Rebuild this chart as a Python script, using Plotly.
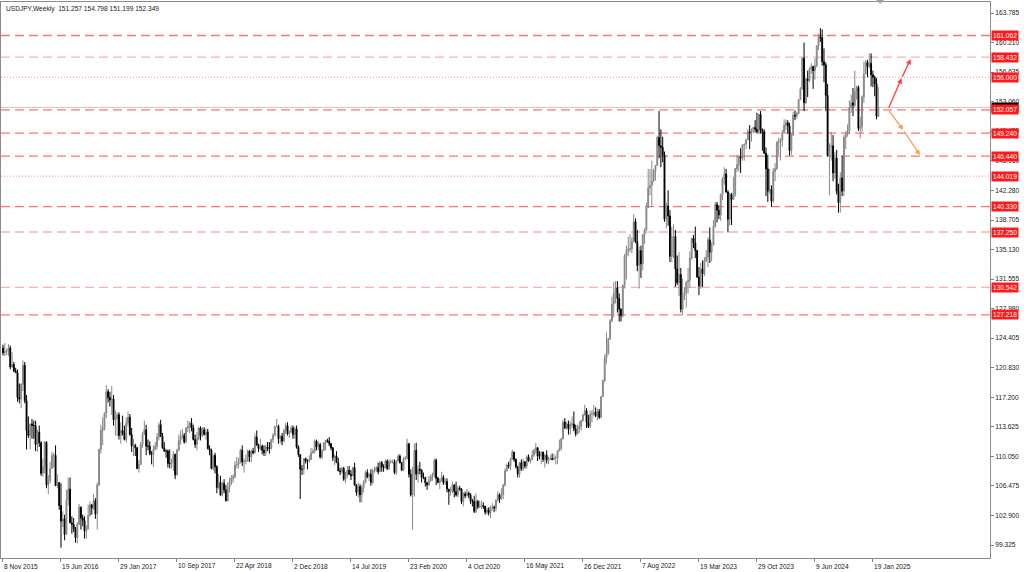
import pandas as pd
import plotly.graph_objects as go

# ---------------- data (weekly USDJPY) ----------------
first_open = 123.2

high_2015 = [123.6, 123.8, 123.1, 123.7, 123.5, 122.7, 121.5, 120.8]
low_2015 = [122.3, 122.2, 122.3, 122.2, 120.6, 120.8, 120.3, 120.2]
close_2015 = [122.6, 122.8, 122.8, 123.2, 120.9, 121.2, 120.4, 120.2]

high_2016 = [120.6, 118.9, 118.9, 121.7, 121.5, 117.5, 114.9, 114.0, 114.6, 114.4, 114.4, 113.3, 113.8,
             111.9, 109.8, 111.9, 111.9, 107.8, 109.4, 110.6, 110.5, 111.4, 107.9, 106.9, 106.8, 103.4,
             103.0, 106.0, 107.5, 107.5, 102.8, 102.6, 101.5, 102.1, 104.3, 104.0, 103.0, 102.8, 101.7,
             104.2, 104.6, 104.3, 105.5, 105.0, 106.9, 111.0, 113.9, 114.8, 115.4, 118.7, 118.2, 117.9]
low_2016 = [116.7, 116.5, 115.9, 118.0, 116.5, 110.9, 112.3, 110.9, 112.2, 112.2, 110.7, 110.6, 111.2,
            107.7, 107.6, 108.0, 106.2, 105.5, 106.8, 108.6, 108.7, 106.5, 106.2, 103.6, 99.0, 101.5,
            99.9, 100.6, 104.1, 102.0, 100.7, 100.9, 99.6, 99.5, 101.8, 101.2, 101.6, 100.1, 100.1,
            101.2, 102.8, 103.0, 103.6, 102.5, 101.2, 106.5, 110.4, 111.4, 113.2, 114.7, 116.6, 116.1]
close_2016 = [117.2, 117.0, 118.8, 121.1, 116.8, 113.2, 112.6, 114.0, 113.8, 113.8, 111.5, 113.0, 111.7,
              108.0, 108.8, 111.8, 106.6, 107.1, 108.6, 110.2, 110.2, 106.5, 106.9, 104.1, 102.2, 102.5,
              100.6, 104.8, 106.1, 102.0, 101.8, 101.3, 100.2, 101.8, 103.9, 102.6, 102.3, 101.0, 101.3,
              102.9, 104.2, 103.8, 104.7, 103.1, 106.6, 110.9, 113.2, 113.5, 115.3, 117.9, 117.2, 116.9]

high_2017 = [118.6, 117.5, 115.6, 115.4, 115.4, 114.2, 115.0, 113.8, 114.8, 115.5, 115.2, 113.5, 112.2,
             111.6, 111.2, 109.6, 111.8, 113.0, 114.4, 113.9, 112.1, 111.9, 110.7, 111.4, 111.8, 112.9,
             114.2, 114.5, 112.9, 111.8, 110.9, 110.9, 110.9, 109.8, 110.7, 110.4, 111.0, 112.7, 113.2,
             113.4, 112.9, 113.6, 114.4, 114.3, 114.7, 113.9, 112.7, 113.0, 113.6, 113.7, 113.6, 113.6]
low_2017 = [115.1, 113.8, 112.6, 112.5, 112.1, 111.6, 112.6, 112.0, 111.7, 113.7, 112.6, 110.6, 110.1,
            110.1, 108.5, 108.1, 109.0, 111.1, 112.8, 110.2, 110.8, 110.2, 109.1, 108.8, 110.8, 110.9,
            112.0, 112.4, 111.0, 110.6, 109.9, 108.7, 108.6, 108.6, 108.3, 107.3, 107.8, 110.7, 111.5,
            112.2, 111.6, 111.7, 113.0, 112.9, 113.1, 112.0, 111.1, 110.8, 112.0, 112.0, 112.4, 112.6]
close_2017 = [117.0, 114.5, 114.6, 115.1, 112.6, 113.2, 112.9, 112.1, 114.1, 114.8, 112.7, 111.3, 111.4,
              111.1, 108.6, 109.1, 111.5, 112.7, 113.3, 111.3, 111.3, 110.4, 110.3, 110.9, 111.3, 112.4,
              113.9, 112.5, 111.1, 110.7, 110.7, 109.2, 109.2, 109.4, 110.3, 107.8, 110.8, 112.0, 112.5,
              112.6, 111.8, 113.5, 113.7, 114.1, 113.5, 112.1, 111.5, 112.2, 113.5, 112.6, 113.3, 112.7]

high_2018 = [113.4, 113.4, 111.4, 111.0, 110.2, 110.5, 109.0, 107.9, 107.7, 107.0, 107.3, 106.6, 106.9,
             107.5, 107.8, 107.9, 109.5, 110.0, 109.9, 111.0, 111.4, 109.8, 110.3, 110.9, 110.8, 110.9,
             111.1, 112.8, 113.2, 111.6, 112.2, 111.5, 111.4, 111.5, 111.8, 111.8, 112.2, 112.9, 113.7,
             114.6, 113.9, 112.6, 112.9, 113.4, 114.1, 114.2, 113.2, 113.8, 113.8, 113.7, 113.8, 111.4, 110.3]
low_2018 = [112.1, 110.9, 110.2, 108.5, 108.3, 108.0, 105.6, 106.1, 105.3, 105.2, 105.6, 104.6, 104.6,
            105.7, 106.6, 106.9, 107.4, 108.6, 108.6, 109.2, 108.9, 108.1, 109.1, 109.4, 109.4, 109.4,
            110.3, 110.4, 111.4, 110.6, 110.8, 110.3, 110.1, 110.1, 110.7, 110.4, 110.9, 111.7, 112.5,
            113.6, 111.6, 111.6, 111.4, 111.8, 112.8, 112.6, 112.3, 112.9, 112.2, 112.2, 111.0, 110.0, 104.9]
close_2018 = [113.0, 111.0, 110.8, 108.6, 110.2, 108.8, 106.3, 106.9, 105.4, 106.8, 106.0, 104.7, 106.3,
              106.9, 107.4, 107.6, 109.0, 109.1, 109.4, 110.8, 109.4, 109.5, 109.5, 110.7, 110.0, 110.7,
              110.5, 112.4, 111.4, 111.0, 111.3, 110.8, 110.5, 111.2, 111.0, 111.0, 112.1, 112.6, 113.7,
              113.7, 112.2, 112.5, 111.9, 113.2, 113.8, 112.8, 113.0, 113.5, 112.7, 113.4, 111.2, 110.3, 108.5]

high_2019 = [109.0, 109.8, 109.9, 109.7, 110.2, 111.1, 111.0, 112.1, 112.1, 111.9, 111.7, 110.9, 111.8,
             112.0, 112.2, 112.4, 111.7, 111.2, 110.3, 110.7, 109.9, 108.7, 108.8, 108.8, 108.2, 108.9,
             108.9, 108.4, 108.8, 109.3, 106.7, 106.9, 106.7, 106.6, 107.2, 108.3, 108.5, 108.1, 108.5,
             108.6, 108.8, 108.9, 109.3, 109.5, 109.5, 109.1, 109.7, 109.7, 109.7, 109.7, 109.7, 109.7]
low_2019 = [107.8, 107.9, 109.2, 108.5, 109.3, 109.6, 110.4, 110.4, 110.8, 110.8, 109.8, 109.7, 110.7,
            110.8, 111.7, 111.3, 110.8, 109.5, 109.0, 109.3, 108.3, 107.8, 108.0, 107.1, 106.8, 107.5,
            107.8, 107.2, 107.7, 106.5, 105.3, 105.1, 104.5, 104.5, 105.7, 106.8, 107.4, 107.1, 106.5,
            106.7, 108.1, 108.2, 107.9, 108.2, 108.2, 108.2, 108.6, 108.4, 108.4, 109.2, 109.2, 107.9]
close_2019 = [108.5, 109.8, 109.5, 109.5, 109.7, 110.5, 110.7, 111.9, 111.2, 111.5, 110.0, 110.8, 111.7,
              112.0, 111.9, 111.6, 111.1, 109.9, 110.1, 109.3, 108.3, 108.2, 108.6, 107.3, 107.8, 108.4,
              107.9, 107.7, 108.7, 106.6, 105.7, 106.4, 105.4, 106.3, 106.9, 108.1, 107.6, 107.9, 106.9,
              108.3, 108.4, 108.7, 108.2, 109.3, 108.8, 108.7, 109.5, 108.6, 109.4, 109.4, 109.4, 108.1]

high_2020 = [109.6, 110.3, 110.3, 109.4, 110.0, 110.1, 112.2, 111.7, 108.5, 108.8, 111.6, 111.7, 109.0,
             109.4, 108.5, 108.1, 107.6, 106.9, 107.7, 107.9, 108.1, 109.8, 109.8, 107.6, 107.4, 108.2,
             107.8, 107.4, 107.4, 106.1, 106.4, 107.0, 106.7, 107.0, 106.5, 106.5, 106.2, 105.7, 105.8,
             106.1, 105.8, 105.6, 104.9, 105.3, 105.6, 104.8, 104.7, 104.7, 104.5, 104.1, 103.9, 103.9]
low_2020 = [107.8, 109.4, 109.2, 108.3, 108.3, 109.6, 109.7, 107.5, 105.2, 101.2, 105.2, 107.2, 106.9,
            107.9, 106.9, 107.3, 106.4, 106.0, 106.5, 107.0, 107.1, 107.5, 106.6, 106.8, 106.1, 107.0,
            106.6, 106.6, 105.7, 104.2, 105.3, 105.6, 105.1, 105.2, 105.1, 105.9, 104.3, 104.0, 105.0,
            105.2, 105.0, 104.3, 104.0, 103.2, 103.2, 103.7, 103.9, 103.7, 103.7, 103.0, 103.0, 102.9]
close_2020 = [109.5, 110.1, 109.3, 108.4, 109.8, 109.8, 111.6, 107.9, 105.4, 107.9, 110.8, 107.9, 108.5,
              108.4, 107.5, 107.5, 106.9, 106.6, 107.1, 107.6, 107.8, 109.6, 107.4, 106.9, 107.2, 107.5,
              106.9, 107.0, 106.1, 105.8, 105.9, 106.6, 105.8, 105.4, 106.2, 106.1, 104.6, 105.5, 105.3,
              105.6, 105.4, 104.7, 104.6, 103.4, 104.6, 103.9, 104.1, 104.1, 104.0, 103.3, 103.6, 103.2]

high_2021 = [104.1, 104.4, 104.1, 104.9, 105.8, 105.6, 106.2, 106.7, 108.6, 109.2, 109.4, 109.9, 110.9,
             110.6, 109.8, 108.9, 109.3, 109.7, 109.8, 109.5, 110.2, 110.3, 109.8, 110.8, 111.0, 111.7,
             111.2, 110.7, 110.6, 110.6, 110.4, 110.8, 110.0, 110.2, 110.4, 110.4, 110.2, 110.8, 112.1,
             112.3, 114.5, 114.7, 114.3, 114.4, 114.3, 114.9, 115.5, 113.9, 113.9, 114.3, 114.5, 115.2]
low_2021 = [102.6, 103.5, 103.3, 103.4, 104.6, 104.4, 104.8, 104.9, 106.4, 108.2, 108.6, 108.4, 109.7,
            109.4, 108.6, 107.5, 107.5, 108.3, 108.3, 108.6, 108.6, 109.4, 109.2, 109.6, 110.0, 110.4,
            109.5, 109.7, 109.1, 109.4, 108.7, 109.2, 109.1, 109.6, 109.6, 109.6, 109.1, 109.1, 110.7,
            110.8, 112.1, 113.4, 113.3, 112.7, 112.7, 113.6, 113.1, 112.5, 112.7, 112.9, 113.2, 114.3]
close_2021 = [103.9, 103.9, 103.8, 104.7, 105.4, 104.9, 105.4, 106.6, 108.3, 109.0, 108.9, 109.7, 110.6,
              109.7, 108.8, 107.9, 109.3, 108.6, 109.4, 108.9, 110.0, 109.5, 109.7, 110.2, 110.8, 111.1,
              110.1, 110.1, 110.6, 109.7, 110.2, 109.6, 109.8, 109.8, 109.7, 109.9, 109.9, 110.7, 111.0,
              112.2, 114.2, 113.5, 114.0, 113.4, 113.9, 114.0, 113.4, 112.8, 113.4, 113.7, 114.4, 115.1]

high_2022 = [116.3, 115.9, 115.1, 115.6, 115.7, 116.3, 116.0, 115.8, 115.8, 117.4, 119.4, 122.4, 125.1,
             124.4, 126.7, 129.4, 131.2, 131.3, 131.3, 129.8, 128.0, 130.9, 134.6, 135.6, 136.7, 137.0,
             136.6, 139.4, 138.9, 137.5, 135.5, 135.6, 137.0, 137.7, 140.8, 144.9, 144.9, 145.9, 144.9,
             145.4, 148.9, 151.9, 149.7, 148.8, 147.0, 140.8, 142.3, 139.9, 137.9, 138.2, 137.5, 134.4]
low_2022 = [115.0, 113.5, 113.5, 113.5, 114.2, 114.9, 114.8, 114.4, 114.6, 114.7, 117.3, 119.1, 121.3,
            122.4, 124.2, 126.3, 126.9, 128.6, 127.5, 126.4, 126.4, 126.9, 130.4, 131.5, 134.3, 134.8,
            134.7, 136.0, 135.9, 132.5, 130.4, 131.7, 132.6, 135.8, 137.4, 140.2, 141.7, 140.3, 143.3,
            143.5, 145.3, 146.2, 145.1, 145.7, 138.5, 137.7, 138.0, 133.6, 133.6, 134.1, 130.6, 130.8]
close_2022 = [115.6, 114.2, 113.7, 115.2, 115.2, 115.4, 115.0, 115.5, 114.8, 117.3, 119.2, 122.0, 122.5,
              124.3, 126.5, 128.5, 129.8, 130.5, 129.2, 127.9, 127.1, 130.8, 134.4, 135.0, 135.2, 135.2,
              136.1, 138.5, 136.1, 133.2, 135.0, 133.4, 136.9, 137.5, 140.2, 142.6, 142.9, 143.4, 144.7,
              145.3, 148.7, 147.7, 147.5, 146.6, 138.8, 140.4, 139.2, 134.3, 136.7, 136.7, 132.8, 131.1]

high_2023 = [134.8, 132.9, 131.6, 130.6, 131.2, 132.9, 134.9, 136.5, 136.9, 137.9, 135.1, 133.0, 133.5,
             133.8, 134.2, 135.1, 136.6, 137.8, 136.0, 138.7, 140.9, 140.9, 140.5, 141.9, 143.9, 145.1,
             144.9, 142.3, 142.0, 142.0, 143.9, 145.0, 146.6, 146.6, 147.4, 147.9, 147.9, 148.5, 149.7,
             150.2, 149.8, 150.0, 150.8, 151.7, 151.6, 151.9, 149.8, 149.7, 147.5, 146.6, 144.9, 142.9]
low_2023 = [129.5, 127.5, 127.2, 129.0, 128.1, 129.8, 130.5, 133.9, 135.3, 134.1, 131.7, 129.6, 130.4,
            130.6, 131.9, 133.6, 133.0, 133.5, 133.7, 135.6, 137.8, 138.4, 138.8, 138.6, 141.1, 143.0,
            142.0, 137.2, 138.0, 138.1, 141.5, 141.5, 144.5, 144.6, 144.4, 145.9, 145.9, 147.3, 148.4,
            147.3, 148.2, 149.2, 149.3, 149.2, 149.2, 149.2, 147.1, 146.7, 141.6, 140.9, 141.9, 140.3]
close_2023 = [132.1, 127.9, 129.6, 129.9, 131.2, 131.4, 134.1, 136.5, 135.9, 135.0, 131.8, 130.7, 132.8,
              132.2, 133.8, 134.2, 136.3, 134.8, 135.7, 137.9, 140.6, 139.9, 139.3, 141.8, 143.7, 144.3,
              142.1, 138.8, 141.8, 141.2, 141.8, 144.9, 145.4, 146.4, 146.2, 147.8, 147.9, 148.4, 149.4,
              149.3, 149.6, 149.9, 149.7, 149.4, 151.5, 149.6, 149.4, 146.8, 144.9, 142.2, 142.4, 141.0]

high_2024 = [145.0, 145.6, 148.3, 148.7, 148.6, 149.6, 150.9, 150.9, 150.8, 150.5, 149.2, 151.8, 151.97,
             151.8, 153.3, 154.8, 158.4, 160.2, 155.9, 156.8, 157.2, 157.7, 157.4, 158.3, 159.9, 161.3,
             161.95, 161.8, 159.5, 157.8, 155.2, 148.0, 149.4, 149.0, 147.0, 147.2, 143.1, 144.5, 146.5,
             149.0, 149.5, 150.3, 153.2, 153.9, 154.7, 156.8, 155.0, 155.0, 151.2, 153.8, 157.9, 158.1, 158.1]
low_2024 = [140.8, 143.4, 144.8, 146.6, 145.9, 147.6, 149.2, 149.6, 149.2, 146.5, 146.6, 148.9, 150.8,
            151.0, 151.5, 153.2, 154.5, 151.9, 152.8, 153.6, 155.4, 156.4, 154.6, 155.7, 157.2, 159.3,
            160.3, 157.4, 155.4, 151.9, 146.4, 141.7, 145.9, 143.4, 143.7, 141.8, 139.6, 139.6, 141.6,
            141.6, 147.3, 148.8, 149.1, 151.7, 151.3, 152.4, 153.3, 149.5, 148.6, 149.4, 152.9, 156.4, 156.0]
close_2024 = [144.6, 144.9, 148.1, 148.2, 148.4, 149.3, 150.2, 150.5, 150.1, 147.1, 149.0, 151.4, 151.3,
              151.6, 153.3, 154.6, 158.3, 152.9, 155.8, 155.6, 157.0, 157.3, 156.8, 157.4, 159.8, 160.9,
              160.8, 157.9, 157.5, 153.8, 146.5, 147.6, 147.7, 144.4, 146.2, 142.2, 140.8, 143.8, 142.2,
              148.7, 149.1, 149.5, 152.3, 152.9, 152.6, 154.3, 154.8, 149.8, 150.0, 153.6, 156.4, 157.8, 157.3]

high_2025 = [158.9, 158.9, 156.8, 156.2, 155.9, 154.798]
low_2025 = [157.1, 154.9, 154.8, 153.7, 150.9, 151.199]
close_2025 = [157.7, 156.3, 156.0, 155.2, 151.257, 152.349]

# horizontal levels drawn on the chart
level_values = [161.062, 158.432, 156.000, 152.057, 149.240, 146.440, 144.019, 140.330, 137.250, 130.542, 127.218]
level_kinds = ["dash", "light", "dot", "dash", "dash", "dash", "dot", "dash", "light", "light", "dash"]
bid_price = 152.349

# right price-axis labels
price_ticks = [163.785, 160.210, 156.635, 153.060, 149.485, 145.910, 142.280, 138.705, 135.130,
               131.555, 127.980, 124.405, 120.830, 117.200, 113.625, 110.050, 106.475, 102.900, 99.325]

# time-axis labels
time_tick_dates = ["2015-11-08", "2016-06-19", "2017-01-29", "2017-09-10", "2018-04-22", "2018-12-02",
                   "2019-07-14", "2020-02-23", "2020-10-04", "2021-05-16", "2021-12-26", "2022-08-07",
                   "2023-03-19", "2023-10-29", "2024-06-09", "2025-01-19"]
time_tick_text = ["8 Nov 2015", "19 Jun 2016", "29 Jan 2017", "10 Sep 2017", "22 Apr 2018", "2 Dec 2018",
                  "14 Jul 2019", "23 Feb 2020", "4 Oct 2020", "16 May 2021", "26 Dec 2021", "7 Aug 2022",
                  "19 Mar 2023", "29 Oct 2023", "9 Jun 2024", "19 Jan 2025"]

# projected paths (week offset from first bar, price)
up_path_weeks = [488.4, 495.8, 500.8]
up_path_prices = [152.12, 155.87, 158.18]
down_path_weeks = [488.4, 496.7, 505.9]
down_path_prices = [152.12, 149.61, 146.58]

# ---------------- assemble ----------------
highs = high_2015 + high_2016 + high_2017 + high_2018 + high_2019 + high_2020 + high_2021 + high_2022 + high_2023 + high_2024 + high_2025
lows = low_2015 + low_2016 + low_2017 + low_2018 + low_2019 + low_2020 + low_2021 + low_2022 + low_2023 + low_2024 + low_2025
closes = close_2015 + close_2016 + close_2017 + close_2018 + close_2019 + close_2020 + close_2021 + close_2022 + close_2023 + close_2024 + close_2025
opens = [first_open] + closes[:-1]

week0 = pd.Timestamp("2015-11-08")
dates = [week0 + pd.Timedelta(days=7 * i) for i in range(len(closes))]


def wk(i):
    return week0 + pd.Timedelta(days=7 * i)


FONT = "Liberation Sans, Arial, sans-serif"
FS = 6.6

fig = go.Figure()
fig.add_trace(go.Candlestick(
    x=dates, open=opens, high=highs, low=lows, close=closes,
    increasing=dict(line=dict(color="#888888", width=1), fillcolor="#888888"),
    decreasing=dict(line=dict(color="#000000", width=1), fillcolor="#000000"),
    whiskerwidth=0, hoverinfo="skip", showlegend=False,
))

shapes = []
annotations = []

# bid line
shapes.append(dict(type="line", xref="paper", x0=0, x1=1, yref="y", y0=bid_price, y1=bid_price,
                   line=dict(color="#c8c8c8", width=1), layer="below"))

style_map = {
    "dash": dict(color="rgba(255,90,90,0.85)", width=1.3, dash="9px,5px"),
    "light": dict(color="rgba(255,140,140,0.7)", width=1.3, dash="9px,5px"),
    "dot": dict(color="rgba(255,110,110,0.8)", width=1, dash="1px,2px"),
}
for v, k in zip(level_values, level_kinds):
    shapes.append(dict(type="line", xref="paper", x0=0, x1=1, yref="y", y0=v, y1=v,
                       line=style_map[k], layer="below"))

# chart-shift marker at the top
shapes.append(dict(type="path", xref="paper", yref="paper",
                   path="M 0.8848,1.0036 L 0.8929,1.0036 L 0.8889,0.997 Z",
                   fillcolor="#a0a0a0", line=dict(width=0)))

# bid label (black) then level labels (red)
annotations.append(dict(xref="paper", x=1, xanchor="left", xshift=1, yref="y", y=bid_price,
                        text=f"{bid_price:.3f}", showarrow=False, bgcolor="#000000",
                        font=dict(family=FONT, size=FS, color="#ffffff"), borderpad=1))
for v in level_values:
    annotations.append(dict(xref="paper", x=1, xanchor="left", xshift=1, yref="y", y=v,
                            text=f"{v:.3f}", showarrow=False, bgcolor="#ff1a1a",
                            font=dict(family=FONT, size=FS, color="#ffffff"), borderpad=1))

# time labels
for d, t in zip(time_tick_dates, time_tick_text):
    annotations.append(dict(xref="x", x=d, xanchor="left", xshift=-1, yref="paper", y=0,
                            yanchor="middle", yshift=-8, text=t, showarrow=False,
                            font=dict(family=FONT, size=FS, color="#202020")))

# title
annotations.append(dict(xref="paper", x=0, xanchor="left", xshift=3, yref="paper", y=1,
                        yanchor="top", yshift=-1,
                        text="USDJPY,Weekly  151.257 154.798 151.199 152.349", showarrow=False,
                        font=dict(family=FONT, size=FS, color="#202020")))

# projection arrows (two segments each, with arrow heads)
for weeks, prices, col in [(up_path_weeks, up_path_prices, "#ff3b3b"),
                           (down_path_weeks, down_path_prices, "#ff9a4a")]:
    for j in range(len(weeks) - 1):
        annotations.append(dict(xref="x", yref="y", axref="x", ayref="y",
                                x=wk(weeks[j + 1]), y=prices[j + 1],
                                ax=wk(weeks[j]), ay=prices[j],
                                showarrow=True, arrowhead=2, arrowsize=0.8, arrowwidth=1.3,
                                arrowcolor=col, text=""))

fig.update_layout(
    width=1024, height=572,
    margin=dict(l=1, r=34, t=2, b=14),
    paper_bgcolor="#ffffff", plot_bgcolor="#ffffff",
    shapes=shapes, annotations=annotations,
    showlegend=False,
    font=dict(family=FONT, size=FS, color="#202020"),
    xaxis=dict(
        type="date", range=[wk(-1.1), wk(544.6)],
        rangeslider=dict(visible=False),
        showgrid=False, zeroline=False,
        tickvals=time_tick_dates, showticklabels=False,
        ticks="outside", ticklen=3, tickcolor="#808080",
        showline=True, linecolor="#8c8c8c", linewidth=1, mirror=True,
    ),
    yaxis=dict(
        range=[97.75, 165.12], side="right",
        showgrid=False, zeroline=False,
        tickvals=price_ticks, ticktext=[f"{p:.3f}" for p in price_ticks],
        ticks="outside", ticklen=3, tickcolor="#808080",
        tickfont=dict(family=FONT, size=FS, color="#202020"),
        showline=True, linecolor="#8c8c8c", linewidth=1, mirror=True,
    ),
)

fig.write_html("out.html", config={"displayModeBar": False},
               post_script="document.body.style.margin='0';")
